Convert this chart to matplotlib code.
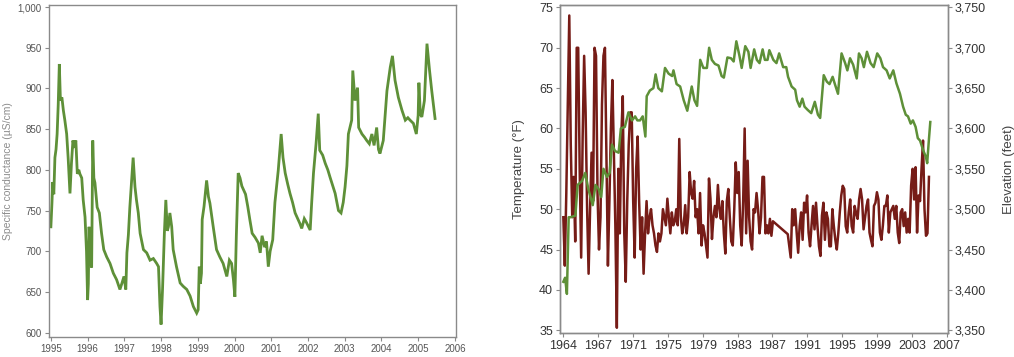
import numpy as np
import matplotlib

matplotlib.use("Agg")
import matplotlib.pyplot as plt
from matplotlib.ticker import FuncFormatter

plt.rcParams["font.family"] = ["Liberation Sans", "DejaVu Sans"]

# left panel: specific conductance, 1995-2005
COND_YEARS = [
    1995.00, 1995.03, 1995.05, 1995.08, 1995.11, 1995.14, 1995.17, 1995.20, 1995.23, 1995.26,
    1995.30, 1995.34, 1995.38, 1995.43, 1995.47, 1995.50, 1995.52, 1995.56, 1995.60, 1995.64,
    1995.68, 1995.72, 1995.76, 1995.79, 1995.84, 1995.88, 1995.93, 1995.97, 1996.00, 1996.02,
    1996.04, 1996.07, 1996.11, 1996.14, 1996.17, 1996.20, 1996.26, 1996.32, 1996.38, 1996.44,
    1996.52, 1996.61, 1996.70, 1996.79, 1996.88, 1996.93, 1996.99, 1997.04, 1997.07, 1997.11,
    1997.15, 1997.20, 1997.24, 1997.29, 1997.33, 1997.38, 1997.43, 1997.52, 1997.61, 1997.70,
    1997.79, 1997.88, 1997.93, 1997.97, 1998.00, 1998.04, 1998.09, 1998.13, 1998.17, 1998.20,
    1998.24, 1998.29, 1998.33, 1998.42, 1998.52, 1998.60, 1998.70, 1998.79, 1998.88, 1998.97,
    1999.01, 1999.04, 1999.07, 1999.10, 1999.12, 1999.17, 1999.24, 1999.29, 1999.33, 1999.42,
    1999.51, 1999.60, 1999.69, 1999.79, 1999.86, 1999.92, 1999.97, 2000.01, 2000.05, 2000.10,
    2000.15, 2000.20, 2000.30, 2000.36, 2000.42, 2000.48, 2000.56, 2000.65, 2000.70, 2000.75,
    2000.82, 2000.87, 2000.92, 2000.97, 2001.04, 2001.10, 2001.19, 2001.27, 2001.32, 2001.38,
    2001.45, 2001.51, 2001.58, 2001.65, 2001.72, 2001.78, 2001.83, 2001.90, 2001.95, 2002.06,
    2002.10, 2002.15, 2002.22, 2002.28, 2002.32, 2002.40, 2002.47, 2002.54, 2002.60, 2002.67,
    2002.74, 2002.83, 2002.90, 2002.96, 2003.01, 2003.06, 2003.10, 2003.19, 2003.22, 2003.28,
    2003.35, 2003.38, 2003.47, 2003.54, 2003.60, 2003.67, 2003.74, 2003.80, 2003.87, 2003.92,
    2003.96, 2004.05, 2004.15, 2004.24, 2004.30, 2004.37, 2004.46, 2004.56, 2004.65, 2004.72,
    2004.78, 2004.87, 2004.95, 2005.00, 2005.02, 2005.06, 2005.10, 2005.17, 2005.24, 2005.31,
    2005.37, 2005.42, 2005.46,
]
COND_US = [
    730, 760, 785, 770, 815, 825, 844, 880, 930, 885,
    889, 873, 861, 844, 815, 787, 771, 808, 836, 827,
    836, 795, 800, 795, 790, 763, 742, 700, 640, 660,
    730, 690, 680, 836, 790, 784, 754, 747, 722, 702,
    693, 685, 673, 665, 653, 660, 669, 653, 698, 720,
    754, 787, 815, 779, 763, 747, 722, 702, 698, 689,
    691, 685, 681, 632, 610, 653, 722, 763, 725, 730,
    747, 730, 702, 681, 661, 657, 653, 645, 632, 624,
    628, 681, 660, 673, 739, 755, 787, 767, 759, 730,
    702, 693, 685, 669, 689, 685, 665, 644, 720, 796,
    790, 780, 770, 755, 738, 722, 717, 710, 698, 719,
    705, 712, 681, 700, 714, 760, 799, 844, 815, 796,
    782, 771, 760, 747, 740, 734, 728, 740, 736, 726,
    759, 796, 832, 869, 824, 818, 808, 800, 791, 781,
    771, 750, 747, 760, 779, 805, 844, 861, 922, 885,
    901, 852, 844, 840, 836, 832, 844, 830, 852, 825,
    820, 836, 897, 926, 940, 910, 889, 873, 861, 864,
    861, 857, 844, 867, 907, 868, 865, 885, 955, 922,
    897, 878, 863,
]
COND_XTICKS = list(range(1995, 2007))
COND_YTICKS = [600, 650, 700, 750, 800, 850, 900, 950, 1000]

# right panel: lake elevation (feet) and water temperature (°F), 1964-2005
ELEV_YEARS = [
    1964.00, 1964.20, 1964.40, 1964.60, 1964.80, 1965.35, 1965.60, 1966.10, 1966.46, 1966.80,
    1967.30, 1967.60, 1967.95, 1968.25, 1968.50, 1968.90, 1969.20, 1969.45, 1969.80, 1970.20,
    1970.45, 1970.90, 1971.30, 1971.70, 1972.05, 1972.30, 1972.60, 1972.90, 1973.20, 1973.35,
    1973.70, 1974.10, 1974.35, 1974.65, 1975.05, 1975.40, 1975.80, 1976.20, 1976.35, 1976.70,
    1977.10, 1977.50, 1977.90, 1978.40, 1978.70, 1979.00, 1979.35, 1979.70, 1980.10, 1980.35,
    1980.65, 1981.00, 1981.40, 1981.75, 1982.00, 1982.40, 1982.80, 1983.10, 1983.40, 1983.75,
    1984.00, 1984.40, 1984.75, 1985.00, 1985.40, 1985.70, 1986.00, 1986.35, 1986.60, 1986.90,
    1987.10, 1987.55, 1987.90, 1988.20, 1988.65, 1989.00, 1989.20, 1989.60, 1990.00, 1990.20,
    1990.50, 1990.80, 1991.05, 1991.40, 1991.80, 1992.20, 1992.55, 1992.80, 1993.20, 1993.55,
    1993.85, 1994.20, 1994.45, 1994.80, 1995.20, 1995.60, 1995.85, 1996.15, 1996.50, 1996.90,
    1997.15, 1997.45, 1997.70, 1998.05, 1998.45, 1998.80, 1999.20, 1999.55, 1999.85, 2000.25,
    2000.60, 2001.00, 2001.35, 2001.75, 2002.10, 2002.40, 2002.65, 2002.95, 2003.20, 2003.50,
    2003.75, 2004.00, 2004.35, 2004.65, 2004.80, 2005.00, 2005.15,
]
ELEV_FT = [
    3410, 3415, 3395, 3490, 3490, 3492, 3530, 3535, 3545, 3525,
    3505, 3530, 3525, 3515, 3550, 3540, 3545, 3580, 3572, 3570,
    3600, 3602, 3620, 3610, 3615, 3610, 3610, 3615, 3590, 3640,
    3647, 3650, 3667, 3650, 3646, 3675, 3668, 3665, 3672, 3655,
    3652, 3635, 3622, 3652, 3635, 3628, 3685, 3675, 3675, 3700,
    3685, 3680, 3678, 3665, 3663, 3688, 3687, 3683, 3708, 3690,
    3675, 3702, 3695, 3675, 3698, 3685, 3681, 3698, 3685, 3685,
    3697, 3685, 3681, 3693, 3676, 3676, 3664, 3652, 3648, 3635,
    3627, 3637, 3627, 3623, 3619, 3633, 3617, 3613, 3666, 3658,
    3655, 3664, 3655, 3643, 3693, 3681, 3672, 3687, 3679, 3662,
    3693, 3687, 3676, 3695, 3681, 3676, 3693, 3687, 3676, 3672,
    3662, 3672, 3656, 3643, 3627, 3617, 3615, 3606, 3610, 3602,
    3588, 3585, 3573, 3565, 3557, 3587, 3608,
]

# temperature sampled every two months from 1964.0; nan = no record
TEMP_START = 1964.0
TEMP_STEP = 1 / 6
NA = np.nan
TEMP_F = [
    49, 43, 52, 63, 74, 58,        # 1964
    49, 54, 46, 70, 70, 55,        # 1965
    44, 59, 69, 62, 50, 42,        # 1966
    50, 57, 51, 70, 69, 52,        # 1967
    45, 49, 63, 69, 70, 56,        # 1968
    43, 51, 60, 66, 57, 48,        # 1969
    35.3, 55, 47, 59, 64, 47,      # 1970
    41, 51, 58, 62, 62, 51,        # 1971
    44, 55, 59, 51, 45, 49,        # 1972
    42, 47, 51, 47, 49, 50,        # 1973
    48, 47, 45.5, 44.7, 47, 46,    # 1974
    47, 50, 49, 48, 51.3, 49,      # 1975
    47, 49.6, 48, 48.5, 50, 48,    # 1976
    58.7, 49.2, 47, 48, 50.5, 47,  # 1977
    49, 54.6, 52, 51.3, 53.5, 49,  # 1978
    50, 47, 52, 45.5, 48, 47,      # 1979
    45.5, 44, 53.8, 51.3, 46.3, 49,  # 1980
    50.4, 49, 53, 50, 48.8, 51,    # 1981
    47, 44.5, 51, 52.5, 49, 46,    # 1982
    45.5, 50, 55.8, 52, 54.6, 48,  # 1983
    45.5, 51, 60, 47, 56, 49,      # 1984
    46, 45, 50, 49.6, 52, 50,      # 1985
    47, 49, 54, 54, 47, 48,        # 1986
    47, 48.8, 46.7, 48.5, NA, NA,  # 1987
    NA, NA, NA, NA, NA, NA,        # 1988
    NA, 46.9, 45.5, 44, 50, 48,    # 1989
    50, 47.1, 44.6, 47.9, 49.6, 46.2,  # 1990
    50.8, 49.6, 51.7, 47.1, 45.4, 48,  # 1991
    50.4, 47.5, 50.8, 47.9, 45.4, 44.2,  # 1992
    49.2, 50.8, 46.2, 49.6, 48.8, 45.4,  # 1993
    45.4, 50, 47.9, 46.2, 45, 47,  # 1994
    49.6, 51.7, 52.9, 52.5, 47.9, 47.1,  # 1995
    49.6, 51.2, 47.9, 47.1, 50.4, 49.5,  # 1996
    48.8, 51.2, 52.5, 51.2, 47.5, 49,  # 1997
    50.4, 51.2, 47.1, 46.2, 45.4, 50.4,  # 1998
    50.8, 52.1, 51.2, 47.1, 46.2, 48,  # 1999
    50.4, 50.4, 51.7, 47.1, 49.6, 50,  # 2000
    50.4, 48.8, 50.4, 47.1, 45.8, 49.6,  # 2001
    50, 47.9, 49.6, 47.1, 48.8, 47.1,  # 2002
    52.9, 55, 51.2, 55.2, 47.1, 51.7,  # 2003
    51, 55, 58.5, 50, 46.7, 47,    # 2004
    54,                            # 2005
]
R_XTICK_LABELS = ["1964", "1967", "1971", "1975", "1979", "1983",
                  "1987", "1991", "1995", "1999", "2003", "2007"]
TEMP_YTICKS = [35, 40, 45, 50, 55, 60, 65, 70, 75]
ELEV_YTICKS = [3350, 3400, 3450, 3500, 3550, 3600, 3650, 3700, 3750]

GREEN = "#5e9038"
RED = "#761c17"
FRAME = "#8a8a8a"
comma = FuncFormatter(lambda v, _: f"{v:,.0f}")


def style_frame(ax, size, color):
    for s in ax.spines.values():
        s.set_color(FRAME)
        s.set_linewidth(1.0)
    ax.tick_params(direction="out", length=3, width=0.8, color=FRAME,
                   labelsize=size, labelcolor=color, pad=2)


fig = plt.figure(figsize=(10.14, 3.57), dpi=100)

# ---- left panel
ax1 = fig.add_axes([0.0480, 0.056, 0.4017, 0.930])
ax1.plot(COND_YEARS, COND_US, color=GREEN, lw=2.0, solid_joinstyle="miter")
ax1.set_xlim(1994.94, 2006.03)
ax1.set_ylim(594.6, 1002.5)
ax1.set_xticks(COND_XTICKS)
ax1.set_yticks(COND_YTICKS)
ax1.yaxis.set_major_formatter(comma)
ax1.set_ylabel("Specific conductance (µS/cm)", fontsize=7.5, color="#8c8c8c", labelpad=3)
style_frame(ax1, 7, "#555555")

# ---- right panel
ax2 = fig.add_axes([0.5523, 0.066, 0.3823, 0.920])
temp = np.array(TEMP_F, dtype=float)
t_years = TEMP_START + TEMP_STEP * np.arange(len(temp))
ok = ~np.isnan(temp)
ax2.plot(t_years[ok], temp[ok], color=RED, lw=1.8)
ax2.set_xlim(1963.63, 2007.1)
ax2.set_ylim(34.6, 75.3)
ax2.set_xticks(np.linspace(1964, 2007, len(R_XTICK_LABELS)))
ax2.set_xticklabels(R_XTICK_LABELS)
ax2.set_yticks(TEMP_YTICKS)
ax2.set_ylabel("Temperature (°F)", fontsize=9.5, color="#444444", labelpad=10)
style_frame(ax2, 9, "#333333")

ax3 = ax2.twinx()
ax3.plot(ELEV_YEARS, ELEV_FT, color=GREEN, lw=1.8)
ax3.set_ylim(3346, 3753)
ax3.set_yticks(ELEV_YTICKS)
ax3.yaxis.set_major_formatter(comma)
ax3.set_ylabel("Elevation (feet)", fontsize=9.5, color="#444444", labelpad=12)
style_frame(ax3, 9, "#333333")

fig.savefig("out.png", dpi=100)
